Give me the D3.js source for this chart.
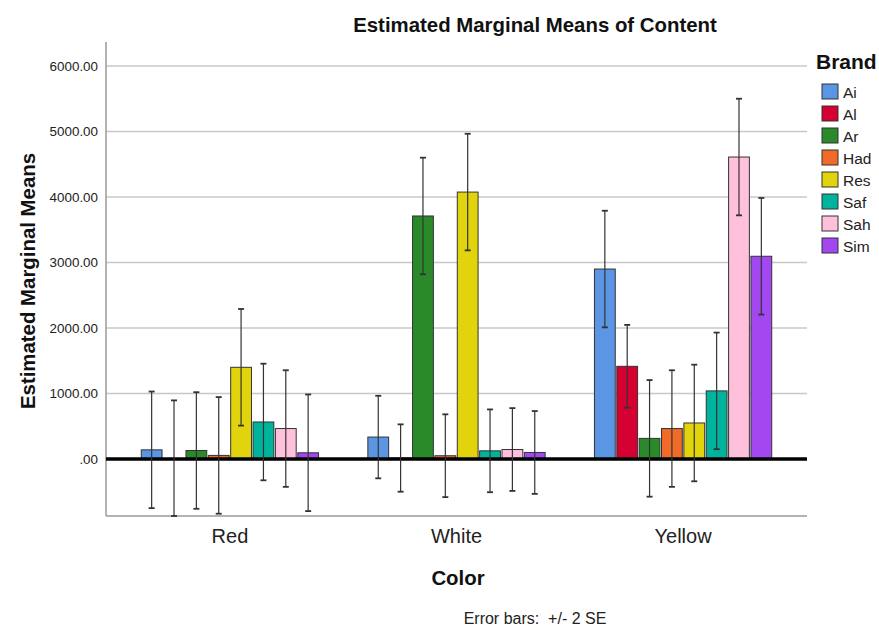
<!DOCTYPE html>
<html>
<head>
<meta charset="utf-8">
<script src="https://cdn.jsdelivr.net/npm/d3@7/dist/d3.min.js"></script>
<style>
  body { margin: 0; background: #fff; }
  svg { display: block; font-family: "Liberation Sans", Arial, sans-serif; }
</style>
</head>
<body>
<svg id="chart" width="879" height="627"></svg>
<script>
// ---- Data ----
const colors = ["Red", "White", "Yellow"];
const brands = ["Ai", "Al", "Ar", "Had", "Res", "Saf", "Sah", "Sim"];
// Estimated marginal means per brand, in order of colors
const meansRed    = [140, 5, 130, 55, 1400, 565, 465, 95];
const meansWhite  = [335, 15, 3710, 50, 4075, 125, 145, 100];
const meansYellow = [2900, 1415, 315, 465, 550, 1040, 4610, 3095];
// Error bar half-widths (2 SE)
const errRed    = [890, 890, 890, 890, 890, 890, 890, 890];
const errWhite  = [630, 514, 890, 632, 890, 632, 632, 632];
const errYellow = [890, 632, 890, 890, 890, 890, 890, 890];
const yTicks = [0, 1000, 2000, 3000, 4000, 5000, 6000];
const brandColors = ["#5a96e4", "#d50032", "#2a8a2a", "#f06a28", "#e2d40c", "#00b39c", "#ffc0dc", "#a347f0"];

const meansByColor = [meansRed, meansWhite, meansYellow];
const errByColor = [errRed, errWhite, errYellow];
const rows = [];
colors.forEach((c, ci) => brands.forEach((b, bi) => {
  rows.push({ color: c, brand: b, mean: meansByColor[ci][bi], err: errByColor[ci][bi] });
}));

// ---- Layout ----
const svg = d3.select("#chart");
const pL = 106, pR = 807, pT = 42, pB = 516;
const yMin = -870, yMax = 6366;

const y = d3.scaleLinear().domain([yMin, yMax]).range([pB, pT]);
const x0 = d3.scaleBand().domain(colors).range([pL, pR]).paddingInner(0.2176).paddingOuter(0.1556);
const x1 = d3.scaleBand().domain(brands).range([0, x0.bandwidth()]).paddingInner(0.07).paddingOuter(0);
const col = d3.scaleOrdinal().domain(brands).range(brandColors);

// gridlines
svg.append("g").selectAll("line").data(yTicks.filter(d => d !== 0)).join("line")
  .attr("x1", pL).attr("x2", pR)
  .attr("y1", d => y(d)).attr("y2", d => y(d))
  .attr("stroke", "#c8c8c8").attr("stroke-width", 1.3);

// axis frame
svg.append("line").attr("x1", pL).attr("x2", pL).attr("y1", pT).attr("y2", pB)
  .attr("stroke", "#9a9a9a").attr("stroke-width", 1.5);
svg.append("line").attr("x1", pL).attr("x2", pR).attr("y1", pB).attr("y2", pB)
  .attr("stroke", "#9a9a9a").attr("stroke-width", 1.5);

// y axis labels
const yAxis = d3.axisLeft(y).tickValues(yTicks).tickSize(0).tickPadding(8)
  .tickFormat(d => d === 0 ? ".00" : d3.format(".2f")(d));
const ya = svg.append("g").attr("transform", `translate(${pL},0)`).call(yAxis);
ya.select(".domain").remove();
ya.selectAll("text").attr("font-size", 13.4).attr("fill", "#222")
  .attr("font-family", "'Liberation Sans', Arial, sans-serif");

// bars
const g = svg.append("g");
g.selectAll("rect").data(rows).join("rect")
  .attr("x", d => x0(d.color) + x1(d.brand))
  .attr("width", x1.bandwidth())
  .attr("y", d => y(Math.max(0, d.mean)))
  .attr("height", d => Math.abs(y(d.mean) - y(0)))
  .attr("fill", d => col(d.brand))
  .attr("stroke", "#333").attr("stroke-width", 1);

// zero line
svg.append("line").attr("x1", pL).attr("x2", pR).attr("y1", y(0)).attr("y2", y(0))
  .attr("stroke", "#000").attr("stroke-width", 3.5);

// error bars
const eb = svg.append("g").attr("stroke", "#333").attr("stroke-width", 1.2);
rows.forEach(d => {
  const cx = x0(d.color) + x1(d.brand) + x1.bandwidth() / 2;
  const yt = y(Math.min(d.mean + d.err, yMax));
  const yb = y(Math.max(d.mean - d.err, yMin));
  eb.append("line").attr("x1", cx).attr("x2", cx).attr("y1", yt).attr("y2", yb);
  eb.append("line").attr("x1", cx - 3).attr("x2", cx + 3).attr("y1", yt).attr("y2", yt).attr("stroke-width", 1.8);
  eb.append("line").attr("x1", cx - 3).attr("x2", cx + 3).attr("y1", yb).attr("y2", yb).attr("stroke-width", 1.8);
});

// x axis labels
const xAxis = d3.axisBottom(x0).tickSize(0).tickPadding(13);
const xa = svg.append("g").attr("transform", `translate(0,${pB})`).call(xAxis);
xa.select(".domain").remove();
xa.selectAll("text").attr("font-size", 20).attr("fill", "#222")
  .attr("font-family", "'Liberation Sans', Arial, sans-serif");

// titles
svg.append("text").attr("x", 535).attr("y", 32).attr("text-anchor", "middle")
  .attr("font-size", 20.4).attr("font-weight", "bold").attr("fill", "#111")
  .text("Estimated Marginal Means of Content");
svg.append("text").attr("transform", "translate(35,281) rotate(-90)").attr("text-anchor", "middle")
  .attr("font-size", 20.4).attr("font-weight", "bold").attr("fill", "#111")
  .text("Estimated Marginal Means");
svg.append("text").attr("x", 458).attr("y", 585).attr("text-anchor", "middle")
  .attr("font-size", 20.4).attr("font-weight", "bold").attr("fill", "#111")
  .text("Color");
svg.append("text").attr("x", 535).attr("y", 624).attr("text-anchor", "middle")
  .attr("font-size", 16).attr("fill", "#222").style("white-space", "pre")
  .text("Error bars:  +/- 2 SE");

// legend
svg.append("text").attr("x", 816).attr("y", 69).attr("font-size", 21).attr("font-weight", "bold")
  .attr("fill", "#111").text("Brand");
const lg = svg.append("g").selectAll("g").data(brands).join("g")
  .attr("transform", (d, i) => `translate(822,${84 + i * 22})`);
lg.append("rect").attr("width", 16).attr("height", 15).attr("fill", d => col(d))
  .attr("stroke", "#333").attr("stroke-width", 1);
lg.append("text").attr("x", 21).attr("y", 14).attr("font-size", 15.5).attr("fill", "#222").text(d => d);
</script>
</body>
</html>
